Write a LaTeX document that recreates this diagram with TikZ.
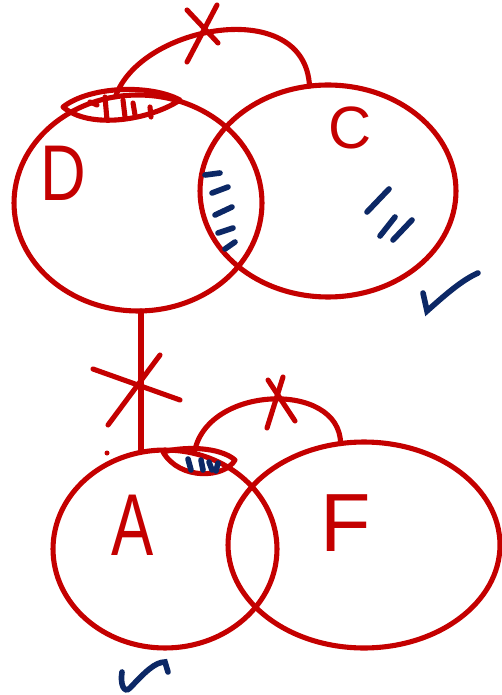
\documentclass[tikz,border=0pt]{standalone}
\usepackage{fontspec}
\setmainfont{Liberation Sans}
\usetikzlibrary{shapes.geometric}
\definecolor{inkred}{RGB}{196,0,0}
\definecolor{inkblue}{RGB}{12,40,102}
\tikzset{
  ring/.style={ellipse, draw=inkred, line width=2.9pt, inner sep=0pt, outer sep=0pt},
  redink/.style={draw=inkred, line width=2.9pt, line cap=round, line join=round},
  blueink/.style={draw=inkblue, line width=3.2pt, line cap=round},
  letter/.style={text=inkred, inner sep=0pt}
}
\begin{document}
\begin{tikzpicture}[x=0.02cm,y=-0.02cm]
  \useasboundingbox (0,0) rectangle (501,695);
  % Sets
  \node[ring, minimum width=4.96cm, minimum height=4.32cm] (setD) at (138,203) {};
  \node[ring, minimum width=5.12cm, minimum height=4.24cm] (setC) at (328,191) {};
  \node[ring, minimum width=4.48cm, minimum height=3.96cm] (setA) at (165,549) {};
  \node[ring, minimum width=5.44cm, minimum height=4.12cm] (setF) at (364,545) {};
  % Letters
  \node[letter, xscale=0.8, font=\fontsize{45}{45}\selectfont] (D) at (63,173) {D};
  \node[letter, font=\fontsize{34}{34}\selectfont] (C) at (350,128) {C};
  \node[letter, xscale=0.72, font=\fontsize{50}{50}\selectfont] (A) at (133,525) {A};
  \node[letter, font=\fontsize{47}{47}\selectfont] (F) at (346,523) {F};
  % Crossed-out links
  \draw[redink] (setD.102) .. controls (140,25) and (305,-5) .. (setC.100);
  \draw[redink] (187,10) -- (218,43);
  \draw[redink] (217,5) -- (187,62);
  \draw[redink] ([xshift=0.06cm]setD.south) -- ([xshift=0.06cm]setD.south |- setA.100);
  \draw[redink] (93,369) -- (180,400);
  \draw[redink] (160,355) -- (108,425);
  \fill[inkred] (107,453) circle (2.5);
  \draw[redink] (setA.73) .. controls (205,385) and (340,380) .. (setF.103);
  \draw[redink] (268,380) -- (295,421);
  \draw[redink] (283,377) -- (267,428);
  % Shaded overlap on top of D
  \draw[redink] (63,107) .. controls (90,86) and (150,84) .. (180,100)
    .. controls (150,120) and (90,130) .. cycle;
  \foreach \xa/\ya/\xb/\yb in {90/102/97/105, 105/97/107/120, 123/100/125/117,
      133/103/135/115, 150/107/151/117}
    \draw[redink] (\xa,\ya) -- (\xb,\yb);
  % Shaded overlap on top of A
  \draw[redink] (163,452) .. controls (185,446) and (220,447) .. (235,460)
    .. controls (225,478) and (180,481) .. cycle;
  \foreach \xa/\ya/\xb/\yb in {188/459/191/470, 201/460/203/470,
      209/462/212/470, 218/463/216/471}
    \draw[blueink] (\xa,\ya) -- (\xb,\yb);
  % Hatching in D and C
  \foreach \xa/\ya/\xb/\yb in {205/175/220/173, 212/193/228/187, 215/215/232/207,
      218/233/233/228, 225/249/235/242}
    \draw[blueink] (\xa,\ya) -- (\xb,\yb);
  \draw[blueink] (367,212) -- (389,189);
  \draw[blueink] (380,236) -- (395,217);
  \draw[blueink] (393,240) -- (412,220);
  % Ticks
  \draw[blueink] (423,293) -- (427,311) .. controls (445,295) and (462,280) .. (478,273);
  \draw[blueink] (122,672) .. controls (120,684) and (124,694) .. (130,688)
    .. controls (145,672) and (155,662) .. (165,662) -- (168,672);
\end{tikzpicture}
\end{document}
